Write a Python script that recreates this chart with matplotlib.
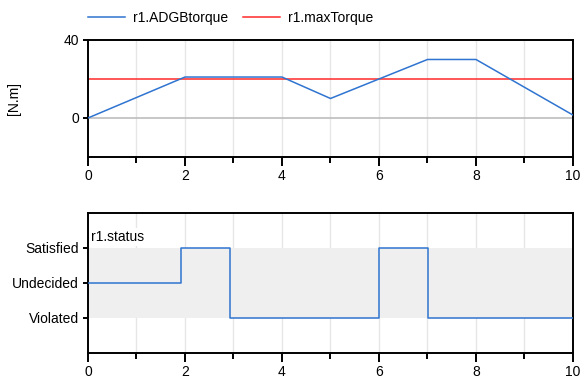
import matplotlib.pyplot as plt
import numpy as np

# torque signal (piecewise linear)
t_torque = [0, 2, 4, 5, 6, 7, 8, 10]
adgb_torque = [0, 21, 21, 10, 20, 30, 30, 1.5]
max_torque = [20, 20]
t_max = [0, 10]

# status signal (step), 1=Satisfied, 0=Undecided, -1=Violated
t_status = [0, 1.92, 2.92, 6.0, 7.02, 10]
status = [0, 1, -1, 1, -1, -1]
status_labels = ["Violated", "Undecided", "Satisfied"]
status_levels = [-1, 0, 1]

blue = "#2f74d0"
red = "#ff2a2a"
plt.rcParams["font.family"] = ["Liberation Sans", "DejaVu Sans"]
plt.rcParams["font.size"] = 10

fig = plt.figure(figsize=(5.82, 3.79), dpi=100)
ax1 = fig.add_axes([0.1512, 0.5858, 0.8333, 0.3087])
ax2 = fig.add_axes([0.1512, 0.0686, 0.8333, 0.3694])


def style(ax):
    ax.set_xlim(0, 10)
    ax.set_xticks([0, 2, 4, 6, 8, 10])
    ax.set_xticks(np.arange(1, 10, 2), minor=True)
    for x in range(1, 10):
        ax.axvline(x, color="#e6e6e6", lw=1, zorder=0)
    for s in ax.spines.values():
        s.set_linewidth(1.4)
    ax.tick_params(axis="x", which="major", direction="out", length=6.5, width=1.4, pad=2)
    ax.tick_params(axis="x", which="minor", direction="out", length=4.3, width=1.4)
    ax.tick_params(axis="y", direction="out", length=3.5, width=1.4, pad=3)
    ax.tick_params(axis="x", which="both", top=False)
    ax.tick_params(axis="y", right=False)


style(ax1)
ax1.set_ylim(-20, 40)
ax1.set_yticks([0, 40])
ax1.axhline(0, color="#bdbdbd", lw=1.2, zorder=1)
l1, = ax1.plot(t_torque, adgb_torque, color=blue, lw=1.1, zorder=3)
l2, = ax1.plot(t_max, max_torque, color=red, lw=1.1, zorder=2)
ax1.set_ylabel("[N.m]")
ax1.yaxis.set_label_coords(-0.138, 0.5)
fig.legend([l1, l2], ["r1.ADGBtorque", "r1.maxTorque"], loc="upper left",
           bbox_to_anchor=(88 / 582, 1 - 11 / 379), ncol=2, frameon=False,
           borderpad=0, borderaxespad=0,
           handlelength=2.67, columnspacing=1.08, handletextpad=0.58)

style(ax2)
ax2.set_ylim(-2, 2)
ax2.set_yticks(status_levels)
ax2.set_yticklabels(status_labels)
ax2.axhspan(-1, 1, color="#efefef", zorder=0.5, lw=0)
ax2.step(t_status, status, where="post", color=blue, lw=1.1, zorder=3)
ax2.text(0.06, 1.32, "r1.status", va="center", ha="left",
         bbox=dict(facecolor="white", edgecolor="none", pad=1.5), zorder=2)

fig.savefig("out.png", dpi=100)
